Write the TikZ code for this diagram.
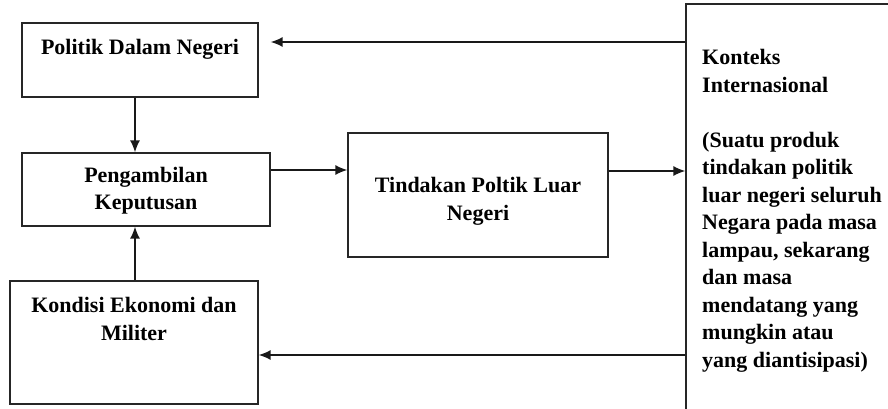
\documentclass[tikz,border=0pt]{standalone}
\usepackage{fontspec}
\setmainfont{Liberation Serif}
\usetikzlibrary{arrows.meta}
\begin{document}
\begin{tikzpicture}[x=1pt,y=-1pt,
  box/.style={draw=black!85,line width=1.3pt,inner sep=0pt,rectangle},
  lbl/.style={font=\fontsize{22}{27.5}\selectfont\bfseries,inner sep=0pt,align=center},
  arr/.style={draw=black!90,line width=1.4pt,-{Latex[length=12pt,width=10pt]}}]
\useasboundingbox (0,0) rectangle (888,409);
% boxes
\node[box,minimum width=236pt,minimum height=74pt] (b1) at (140,60) {};
\node[box,minimum width=248pt,minimum height=73pt] (b2) at (146,189.5) {};
\node[box,minimum width=248pt,minimum height=123pt] (b3) at (134,342.5) {};
\node[box,minimum width=260pt,minimum height=124pt] (b4) at (478,195) {};
\node[box,minimum width=220pt,minimum height=420pt] (b5) at (796,214) {};
% labels
\node[lbl,anchor=base] (t1) at (140,55) {Politik Dalam Negeri};
\node[lbl,anchor=base] (t2) at (146,182) {Pengambilan};
\node[lbl,anchor=base] (t2b) at (146,209) {Keputusan};
\node[lbl,anchor=base] (t3) at (134,312) {Kondisi Ekonomi dan};
\node[lbl,anchor=base] (t3b) at (134,340) {Militer};
\node[lbl,anchor=base] (t4) at (478,192) {Tindakan Poltik Luar};
\node[lbl,anchor=base] (t4b) at (478,220) {Negeri};
\node[lbl,align=left,anchor=north west] (t5) at (702,49.5) {Konteks\\Internasional\\[27.5pt](Suatu produk\\tindakan politik\\luar negeri seluruh\\Negara pada masa\\lampau, sekarang\\dan masa\\mendatang yang\\mungkin atau\\yang diantisipasi)};
% helper coordinates
\coordinate (vx) at (135,0);
\coordinate (h1) at (0,42);
\coordinate (h2) at (0,170);
\coordinate (h3) at (0,171);
\coordinate (h4) at (0,355);
% connectors
\draw[arr] (b1.south -| vx) -- (b2.north -| vx);
\draw[arr] (b3.north -| vx) -- (b2.south -| vx);
\draw[arr] (b2.east |- h2) -- (b4.west |- h2);
\draw[arr] (b4.east |- h3) -- (b5.west |- h3);
\draw[arr,shorten >=12pt] (b5.west |- h1) -- (b1.east |- h1);
\draw[arr] (b5.west |- h4) -- (b3.east |- h4);
\end{tikzpicture}
\end{document}
